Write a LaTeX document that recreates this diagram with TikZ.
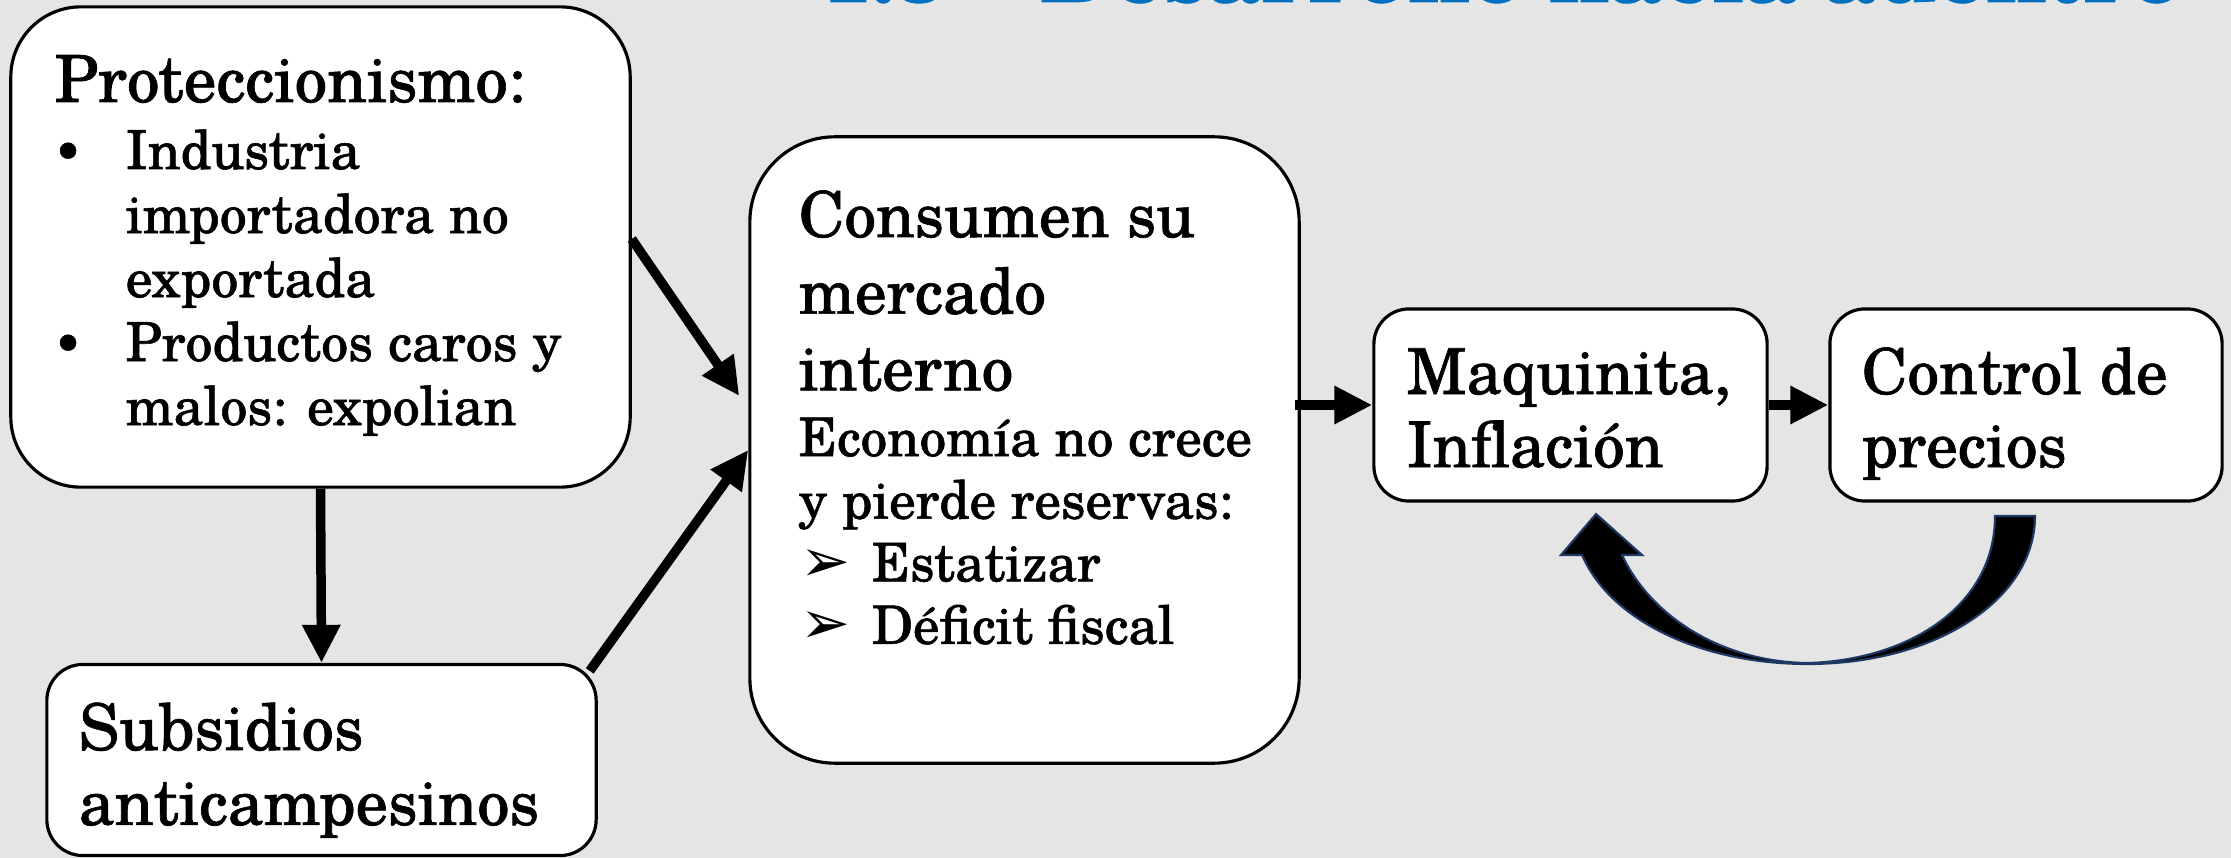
\documentclass[tikz,border=0pt]{standalone}
\usepackage{fontspec}
\setmainfont{texgyreschola}[Extension=.otf,UprightFont=*-regular,BoldFont=*-bold,ItalicFont=*-italic,BoldItalicFont=*-bolditalic,FakeBold=1]
\newfontfamily\dejavu{DejaVu Sans}
\usetikzlibrary{arrows.meta,calc}
\definecolor{bg}{RGB}{229,229,229}
\definecolor{titleblue}{RGB}{0,112,192}
\definecolor{navy}{RGB}{31,56,100}
\newcommand{\smalltxt}{\fontsize{15.3}{18.2}\selectfont}
\newcommand{\arrowbul}{\hspace*{0.02cm}\makebox[0.71cm][l]{\dejavu\fontsize{17}{17}\selectfont ➢}}
\newcommand{\dotbul}{\hspace*{-0.01cm}\makebox[0.72cm][l]{\fontsize{13.5}{13.5}\selectfont\textbullet}}
\begin{document}
\begin{tikzpicture}[x=0.01cm,y=-0.01cm,
  box/.style={draw=black, line width=0.9pt, fill=white, rectangle, inner sep=0pt},
  txt/.style={anchor=base west, inner sep=0pt},
  conn/.style={line width=2.7pt, -{Triangle[length=0.38cm,width=0.36cm]}}]
\useasboundingbox (0,0) rectangle (2231,858);
\fill[bg] (0,0) rectangle (2231,858);
\begin{scope}
\clip (0,0) rectangle (2231,858);
\node[txt, text=titleblue, font=\fontsize{25}{30}\selectfont\bfseries] (title) at (822,2) {1.3 – Desarrollo hacia adentro};
\end{scope}
% boxes
\node[box, rounded corners=0.7cm, minimum width=6.19cm, minimum height=4.80cm] (prot) at (320.5,247) {};
\node[box, rounded corners=0.36cm, minimum width=5.49cm, minimum height=1.91cm] (subs) at (321.5,760) {};
\node[box, rounded corners=0.85cm, minimum width=5.49cm, minimum height=6.26cm] (cons) at (1024.5,450) {};
\node[box, rounded corners=0.35cm, minimum width=3.93cm, minimum height=1.92cm] (maq) at (1570.5,405) {};
\node[box, rounded corners=0.35cm, minimum width=3.92cm, minimum height=1.92cm] (ctrl) at (2026,405) {};
% texts
\node[txt] (protT) at (54,102) {\parbox[t]{5.8cm}{\raggedright
\fontsize{18.5}{21.3}\selectfont Proteccionismo:\par
\vspace{0.03cm}\smalltxt
\dotbul Industria\par
\hspace*{0.71cm}importadora no\par
\hspace*{0.71cm}exportada\par
\dotbul Productos caros y\par
\hspace*{0.71cm}malos: expolian}};
\node[txt] (subsT) at (78,750) {\parbox[t]{5.2cm}{\raggedright\fontsize{18.3}{21.3}\selectfont
Subsidios\par anticampesinos}};
\node[txt] (consT) at (798,237) {\parbox[t]{5.0cm}{\raggedright
\fontsize{18}{21.8}\selectfont Consumen su\par mercado\par interno\par
\fontsize{15.1}{18.7}\selectfont Economía no crece\par
\fontsize{15.1}{17.8}\selectfont y pierde reservas:\par
\arrowbul Estatizar\par
\arrowbul Déficit fiscal}};
\node[txt] (maqT) at (1406,394) {\parbox[t]{3.6cm}{\raggedright\fontsize{18}{20.8}\selectfont
Maquinita,\par Inflación}};
\node[txt] (ctrlT) at (1861,394) {\parbox[t]{3.6cm}{\raggedright\fontsize{18}{20.8}\selectfont
Control de\par precios}};
% connectors
\draw[conn] ($(prot.east)+(0,-8)$) -- ($(cons.west)+(-9,-54)$);
\draw[conn] (prot.south) -- (subs.north);
\draw[conn] ($(subs.north east)+(-8,8)$) -- (cons.west);
\draw[conn] ($(cons.east |- maq.west)+(-6,0)$) -- (maq.west);
\draw[conn] (maq.east) -- (ctrl.west);
% curved block arrow from control back to maquinita
\filldraw[fill=black, draw=navy, line width=0.6pt]
  (2035,516) .. controls (2035,600) and (1935,664) .. (1808,664)
  .. controls (1700,664) and (1610,620) .. (1582,555)
  -- (1561,555) -- (1596,514) -- (1642,555) -- (1622,555)
  .. controls (1650,615) and (1720,662) .. (1808,663)
  .. controls (1910,660) and (1995,605) .. (1995,516) -- cycle;
\end{tikzpicture}
\end{document}
